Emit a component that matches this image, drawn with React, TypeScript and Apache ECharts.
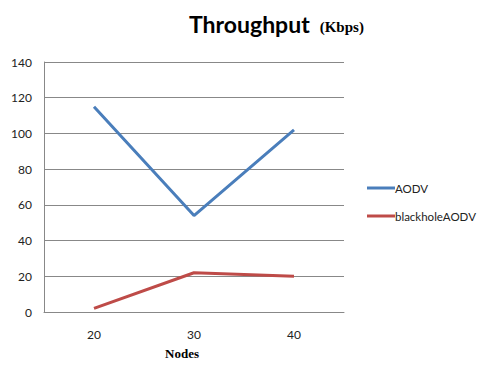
import React, { useEffect, useRef } from "react";
import * as echarts from "echarts";

const categories = ["20", "30", "40"];
const aodv = [115, 54, 102];
const blackholeAodv = [2, 22, 20];
const seriesNames = ["AODV", "blackholeAODV"];

export default function App() {
  const ref = useRef<HTMLDivElement>(null);
  useEffect(() => {
    const chart = echarts.init(ref.current!, undefined, { renderer: "svg" });
    chart.setOption({
      animation: false,
      backgroundColor: "#fff",
      title: {
        text: "{a|Throughput}  {b|(Kbps)}",
        left: 184,
        top: 7,
        textStyle: {
          rich: {
            a: { fontFamily: "Lato", fontWeight: "bold", fontSize: 23, color: "#000" },
            b: { fontFamily: "Liberation Serif", fontWeight: "bold", fontSize: 15, color: "#000", padding: [6, 0, 0, 0] },
          },
        },
      },
      legend: {
        orient: "vertical",
        left: 362,
        top: 177,
        itemWidth: 28,
        itemHeight: 3,
        itemGap: 16,
        icon: "rect",
        textStyle: { fontFamily: "Lato", fontSize: 11.5, color: "#222", padding: [0, 0, 0, -5] },
        data: seriesNames,
      },
      grid: { left: 44, right: 136, top: 62, bottom: 50, containLabel: false },
      xAxis: {
        type: "category",
        data: categories,
        boundaryGap: true,
        name: "Nodes",
        nameLocation: "middle",
        nameGap: 35,
        nameTextStyle: { fontFamily: "Liberation Serif", fontWeight: "bold", fontSize: 13, color: "#000", padding: [0, 24, 0, 0] },
        axisLine: { lineStyle: { color: "#888" } },
        axisTick: { show: false },
        axisLabel: { fontFamily: "Lato", fontSize: 12, color: "#222", margin: 16 },
      },
      yAxis: {
        type: "value",
        min: 0,
        max: 140,
        interval: 20,
        axisLine: { show: true, lineStyle: { color: "#888" } },
        axisTick: { show: false },
        splitLine: { lineStyle: { color: "#888" } },
        axisLabel: { fontFamily: "Lato", fontSize: 12, color: "#222", margin: 12 },
      },
      series: [
        {
          name: seriesNames[0],
          type: "line",
          data: aodv,
          symbol: "none",
          lineStyle: { width: 3, color: "#4a7ebb" },
          itemStyle: { color: "#4a7ebb" },
        },
        {
          name: seriesNames[1],
          type: "line",
          data: blackholeAodv,
          symbol: "none",
          lineStyle: { width: 3, color: "#be4b48" },
          itemStyle: { color: "#be4b48" },
        },
      ],
    });
    return () => chart.dispose();
  }, []);
  return <div ref={ref} style={{ position: "fixed", left: 0, top: 0, width: 480, height: 365 }} />;
}
